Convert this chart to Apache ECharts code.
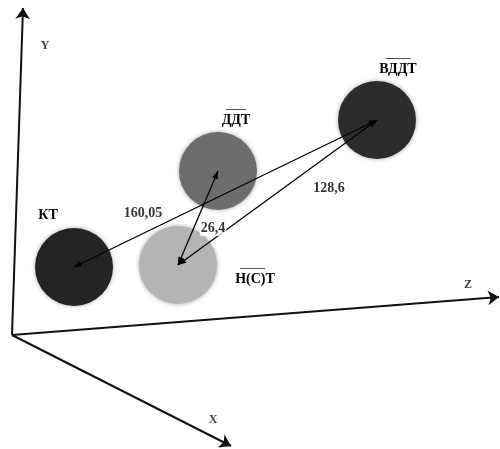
<!DOCTYPE html>
<html>
<head>
<meta charset="utf-8">
<script src="https://cdn.jsdelivr.net/npm/echarts@6/dist/echarts.min.js"></script>
<style>html,body{margin:0;padding:0;background:#fff}#c{width:500px;height:449px}</style>
</head>
<body>
<div id="c"></div>
<script>
// ---- data ----
const nodeNames = ['КТ', 'Н(С)Т', 'ДДТ', 'ВДДТ'];
const nodeOverlined = [false, true, true, true];
const nodeX = [74, 178, 218, 377];
const nodeY = [267, 265, 171, 120];
const linkFrom = [0, 1, 1];
const linkTo = [3, 2, 3];
const linkValues = ['160,05', '26,4', '128,6'];
const axisNames = ['Y', 'Z', 'X'];
const axisOrigin = [12, 335];
const axisEndX = [23, 499, 231];
const axisEndY = [8, 297, 446];

// ---- styles / layout ----
const nodeColors = ['#242424', '#b4b4b4', '#6d6d6d', '#2c2c2c'];
const nodeLabelOffsets = [[-26, -52], [77, 11], [18, -54], [21, -54]];
const overlineText = ['', '–––––  ', '––––', '–––––'];
const linkLabelPos = [[143, 213], [213, 228], [329, 188]];
const axisLabelPos = [[45, 46], [468, 285], [213, 420]];
const serif = '"Liberation Serif", "DejaVu Serif", serif';

const chart = echarts.init(document.getElementById('c'), null, {renderer: 'canvas'});

const nodeData = nodeNames.map((n, i) => ({
  name: n,
  value: [nodeX[i], nodeY[i]],
  itemStyle: {color: nodeColors[i], opacity: 1, shadowBlur: 4, shadowColor: 'rgba(0,0,0,0.35)'},
  label: {
    show: true, position: 'inside', offset: nodeLabelOffsets[i],
    formatter: nodeOverlined[i] ? '{o|' + overlineText[i] + '}\n{t|' + n + '}' : '{t|' + n + '}'
  }
}));

const linkData = linkFrom.map((f, i) => [nodeX[f], nodeY[f], nodeX[linkTo[i]], nodeY[linkTo[i]]]);

const axisData = axisNames.map((n, i) => ({
  coords: [axisOrigin.slice(), [axisEndX[i], axisEndY[i]]]
}));

const linkLabelData = linkValues.map((v, i) => ({
  value: linkLabelPos[i],
  label: {show: true, formatter: v, position: 'inside',
    backgroundColor: i === 1 ? '#fff' : 'transparent', padding: [1, 1]}
}));

const axisLabelData = axisNames.map((n, i) => ({
  value: axisLabelPos[i],
  label: {show: true, formatter: n, position: 'inside'}
}));

function arrowHead(tip, from, len, half) {
  const dx = tip[0] - from[0], dy = tip[1] - from[1];
  const d = Math.sqrt(dx * dx + dy * dy) || 1;
  const ux = dx / d, uy = dy / d;
  const bx = tip[0] - ux * len, by = tip[1] - uy * len;
  return [tip, [bx - uy * half, by + ux * half], [bx + uy * half, by - ux * half]];
}

function renderLink(params, api) {
  const p1 = api.coord([api.value(0), api.value(1)]);
  const p2 = api.coord([api.value(2), api.value(3)]);
  const style = {fill: '#000'};
  return {
    type: 'group',
    children: [
      {type: 'line', shape: {x1: p1[0], y1: p1[1], x2: p2[0], y2: p2[1]},
        style: {stroke: '#000', lineWidth: 1.3}},
      {type: 'polygon', shape: {points: arrowHead(p1, p2, 8, 3)}, style: style},
      {type: 'polygon', shape: {points: arrowHead(p2, p1, 8, 3)}, style: style}
    ]
  };
}

chart.setOption({
  animation: false,
  backgroundColor: '#fff',
  grid: {left: 0, right: 0, top: 0, bottom: 0},
  xAxis: {type: 'value', min: 0, max: 500, show: false},
  yAxis: {type: 'value', min: 0, max: 449, inverse: true, show: false},
  series: [
    {
      type: 'lines', coordinateSystem: 'cartesian2d', z: 1,
      lineStyle: {color: '#111', width: 2, opacity: 1},
      symbol: ['none', 'arrow'], symbolSize: 11,
      data: axisData
    },
    {
      type: 'scatter', symbol: 'circle', symbolSize: 78, z: 2,
      label: {
        rich: {
          o: {color: '#111', fontFamily: serif, fontWeight: 'bold', fontSize: 10, lineHeight: 7, align: 'center'},
          t: {color: '#000', fontFamily: serif, fontWeight: 'bold', fontSize: 14, lineHeight: 16, align: 'center'}
        }
      },
      data: nodeData
    },
    {
      type: 'custom', coordinateSystem: 'cartesian2d', z: 5,
      encode: {x: [0, 2], y: [1, 3]},
      renderItem: renderLink,
      data: linkData
    },
    {
      type: 'scatter', symbol: 'circle', symbolSize: 1, z: 6,
      itemStyle: {color: 'rgba(0,0,0,0)'},
      label: {color: '#000', fontFamily: serif, fontWeight: 'bold', fontSize: 14},
      data: linkLabelData
    },
    {
      type: 'scatter', symbol: 'circle', symbolSize: 1, z: 6,
      itemStyle: {color: 'rgba(0,0,0,0)'},
      label: {color: '#111', fontFamily: serif, fontWeight: 'bold', fontSize: 12},
      data: axisLabelData
    }
  ]
});
</script>
</body>
</html>
